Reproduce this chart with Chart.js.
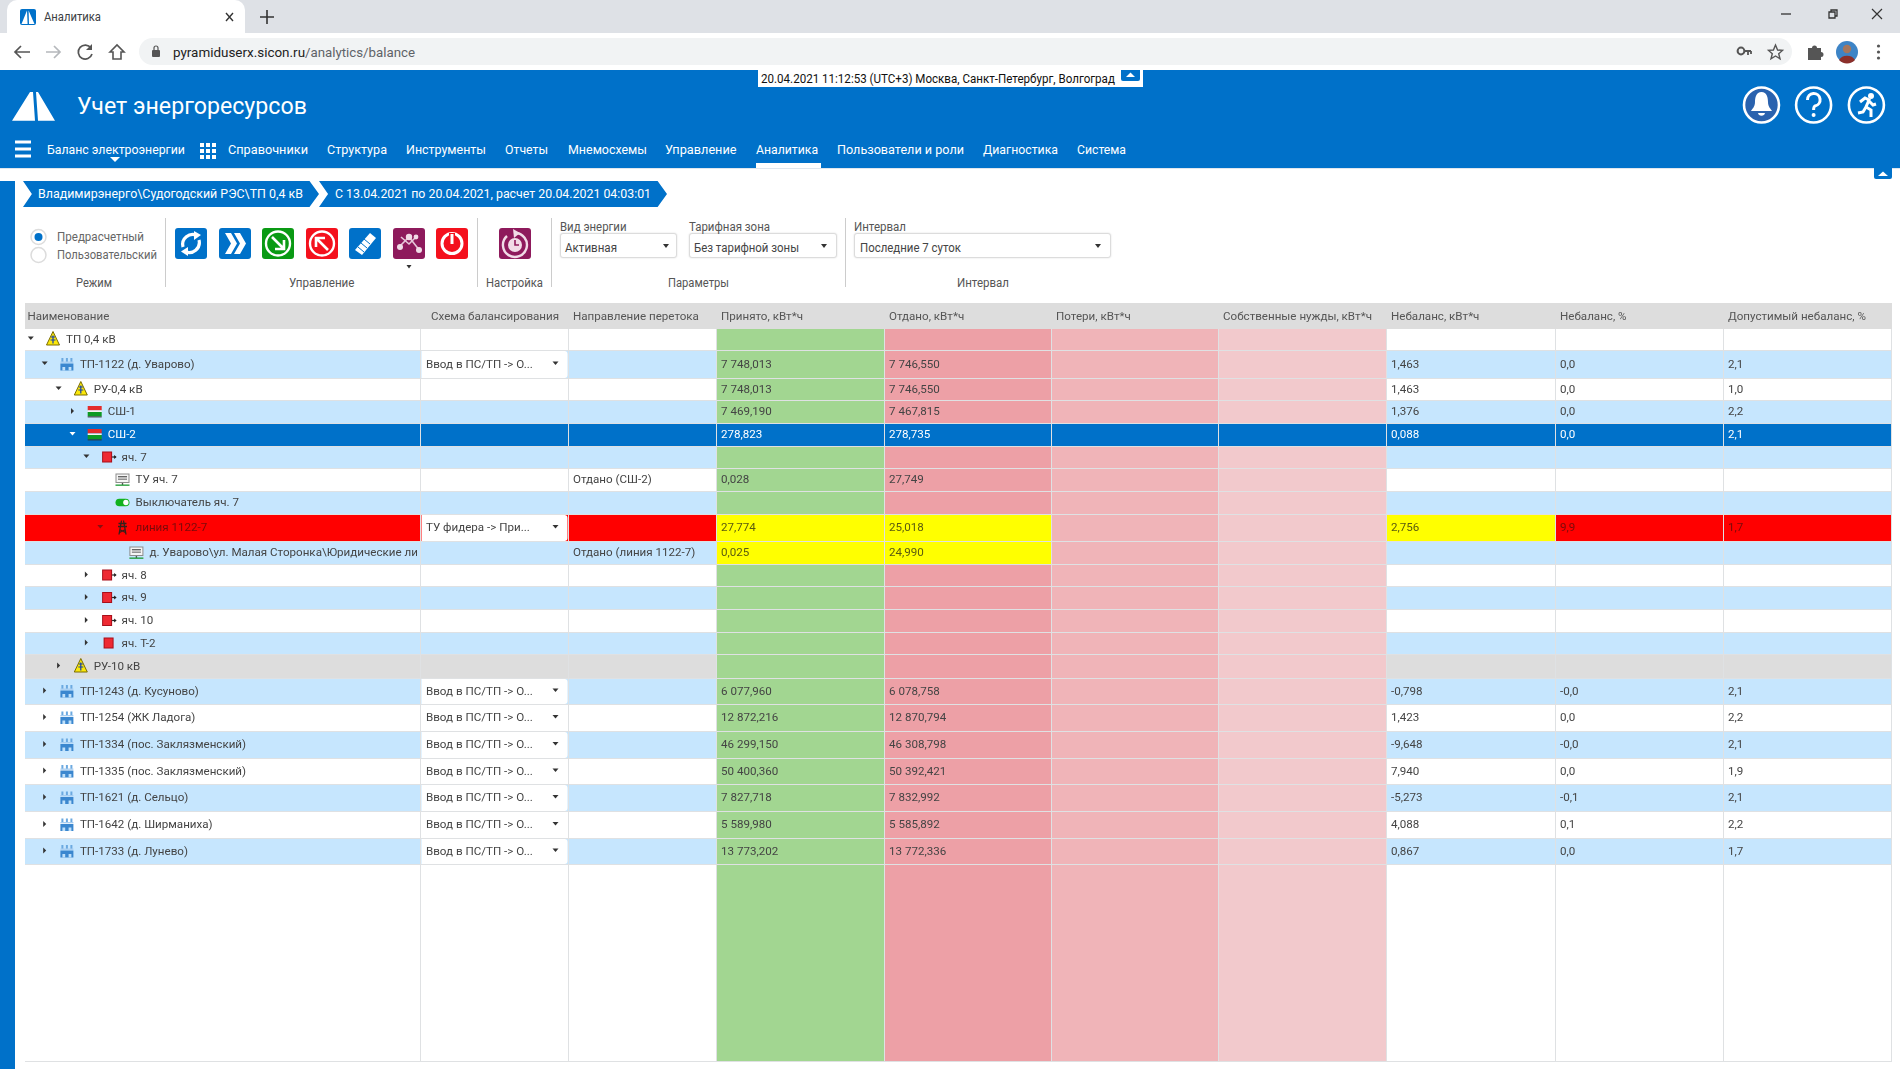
<!DOCTYPE html>
<html lang="ru"><head><meta charset="utf-8"><title>Аналитика</title>
<script src="https://cdn.jsdelivr.net/npm/chart.js@4/dist/chart.umd.min.js"></script>
<style>
html,body{margin:0;padding:0;background:#fff;width:1900px;height:1069px;overflow:hidden;font-family:Roboto,"Open Sans",sans-serif}
.a{position:absolute}
.t{position:absolute;white-space:nowrap;line-height:1;transform-origin:left center}
svg{position:absolute;overflow:visible}
#tbl{position:absolute;left:25px;top:303px;display:block}
</style></head><body>
<div class="a" style="left:0;top:0;width:1900px;height:33px;background:#dee1e6"></div>
<div class="a" style="left:7px;top:0;width:238px;height:34px;background:#fff;border-radius:10px 10px 0 0"></div>
<div class="a" style="left:0;top:33px;width:1900px;height:37px;background:#fff"></div>
<div class="a" style="left:139px;top:38px;width:1653px;height:27px;background:#f1f3f4;border-radius:14px"></div>
<div class="a" style="left:0;top:70px;width:1900px;height:98px;background:#0071c9"></div>
<div class="a" style="left:0;top:168px;width:1900px;height:1px;background:#dfe6ee"></div>
<div class="a" style="left:756px;top:163px;width:65px;height:5px;background:#fff"></div>
<div class="a" style="left:758px;top:70px;width:385px;height:17px;background:#fff"></div>
<div class="a" style="left:1121px;top:70px;width:19px;height:11px;background:#0071c9;border-radius:0 0 2px 2px"></div>
<div class="a" style="left:1874px;top:168px;width:18px;height:11px;background:#0071c9;border-radius:0 0 2px 2px"></div>
<div class="a" style="left:0;top:181px;width:15px;height:888px;background:#0071c9"></div>
<div class="a" style="left:23px;top:181px;width:296px;height:26px;background:#0071c9;clip-path:polygon(0 0,96.8% 0,100% 50%,96.8% 100%,0 100%,3% 50%)"></div>
<div class="a" style="left:319px;top:181px;width:348px;height:26px;background:#0071c9;clip-path:polygon(0 0,97.3% 0,100% 50%,97.3% 100%,0 100%,2.6% 50%)"></div>
<div class="a" style="left:165px;top:218px;width:1px;height:69px;background:#ccc"></div>
<div class="a" style="left:477px;top:218px;width:1px;height:69px;background:#ccc"></div>
<div class="a" style="left:551px;top:218px;width:1px;height:69px;background:#ccc"></div>
<div class="a" style="left:845px;top:218px;width:1px;height:69px;background:#ccc"></div>
<div class="a" style="left:560px;top:233px;width:117px;height:25px;background:#fff;border:1px solid #dcdcdc;border-radius:3px;box-sizing:border-box;box-shadow:0 0 2px #ddd"></div>
<div class="a" style="left:689px;top:233px;width:148px;height:25px;background:#fff;border:1px solid #dcdcdc;border-radius:3px;box-sizing:border-box;box-shadow:0 0 2px #ddd"></div>
<div class="a" style="left:854px;top:233px;width:257px;height:25px;background:#fff;border:1px solid #dcdcdc;border-radius:3px;box-sizing:border-box;box-shadow:0 0 2px #ddd"></div>

<svg style="left:0;top:0" width="1900" height="300" id="ic" xmlns="http://www.w3.org/2000/svg">
 <rect x="20" y="9" width="16" height="16" rx="2" fill="#0071c9"/><path d="M21.5 24 L27 10.5 L27.6 24Z M28.6 10.5 L34.5 24 L29 24Z" fill="#fff"/>
 <path d="M226 13 L233 21 M233 13 L226 21" stroke="#333" stroke-width="1.4"/>
 <path d="M260 17 H274 M267 10 V24" stroke="#333" stroke-width="1.6"/>
 <path d="M30 52 H15 M21 46 L15 52 L21 58" fill="none" stroke="#555" stroke-width="1.7"/>
 <path d="M60 52 H46 M54 46 L60 52 L54 58" fill="none" stroke="#b5b8bc" stroke-width="1.7"/>
 <path d="M91 48 A7 7 0 1 0 92 54" fill="none" stroke="#555" stroke-width="1.7"/><path d="M92 44 V50 H86Z" fill="#555"/>
 <path d="M110 52 L117 45 L124 52 H121 V59 H113 V52Z" fill="none" stroke="#555" stroke-width="1.6"/>
 <rect x="152" y="50" width="8" height="7" rx="1" fill="#555"/><path d="M154 50 V48 A2 2 0 0 1 158 48 V50" fill="none" stroke="#555" stroke-width="1.2"/>
 <circle cx="1741" cy="51" r="3.4" fill="none" stroke="#555" stroke-width="2"/><path d="M1744 51 H1751 M1748 51 V55 M1751 51 V54" stroke="#555" stroke-width="1.8"/>
 <path d="M1775.5 45 L1777.6 50 L1782.5 50.4 L1778.7 53.8 L1780 58.8 L1775.5 56 L1771 58.8 L1772.3 53.8 L1768.5 50.4 L1773.4 50Z" fill="none" stroke="#555" stroke-width="1.4"/>
 <path d="M1808 48 H1812 A2.5 2.5 0 0 1 1817 48 H1821 V52 A2.5 2.5 0 0 1 1821 57 V60 H1808Z" fill="#555"/>
 <circle cx="1847" cy="52" r="11" fill="#3d84c6"/><circle cx="1847" cy="49" r="4.2" fill="#a5765d"/><path d="M1839 60 A9 8 0 0 1 1855 60 A11 11 0 0 1 1839 60Z" fill="#8c2f2a"/>
 <circle cx="1878.5" cy="46" r="1.6" fill="#555"/><circle cx="1878.5" cy="52" r="1.6" fill="#555"/><circle cx="1878.5" cy="58" r="1.6" fill="#555"/>
 <path d="M1781 14 H1791" stroke="#333" stroke-width="1.3"/>
 <path d="M1829 17 H1835 V11 H1829Z M1831 11 V9 H1837 V15 H1835" fill="none" stroke="#333" stroke-width="1.3" transform="translate(0,1)"/>
 <path d="M1872 9 L1882 19 M1882 9 L1872 19" stroke="#333" stroke-width="1.2"/>
 <path d="M12 120.7 L30 92 L33 92 L35 120.7Z M36 92 L38 92 L55 120.7 L38 120.7Z" fill="#fff"/>
 <g fill="#0071c9" stroke="#fff" stroke-width="2.6"><circle cx="1761.5" cy="105" r="17.5" fill="#2a62ae"/><circle cx="1813.6" cy="105" r="17.5"/><circle cx="1866.4" cy="105" r="17.5"/></g>
 <path d="M1761.5 92 C1756 92 1755 98 1755 102 C1755 107 1752 109 1751 111 H1772 C1771 109 1768 107 1768 102 C1768 98 1767 92 1761.5 92Z" fill="#fff"/><path d="M1758 113 A3.6 3.6 0 0 0 1765 113Z" fill="#fff"/>
 <path d="M1807.5 100 A6.3 6.3 0 1 1 1815 106 C1813.8 106.7 1813.6 108 1813.6 110" fill="none" stroke="#fff" stroke-width="3"/><circle cx="1813.6" cy="115" r="2" fill="#fff"/>
 <circle cx="1871" cy="96" r="3" fill="#fff"/><path d="M1860 102 L1865 98 L1869 100 L1866 107 L1871 110 L1871 117 M1866 107 L1863 112 L1858 113 M1869 101 L1873 105 L1876 104" fill="none" stroke="#fff" stroke-width="3"/>
 <path d="M15 142 H31 M15 149 H31 M15 156 H31" stroke="#fff" stroke-width="3.2"/>
 <path d="M110 157 H120 L115 162Z" fill="#fff"/>
 <g fill="#fff"><rect x="200" y="143" width="4" height="4"/><rect x="206" y="143" width="4" height="4"/><rect x="212" y="143" width="4" height="4"/><rect x="200" y="149" width="4" height="4"/><rect x="206" y="149" width="4" height="4"/><rect x="212" y="149" width="4" height="4"/><rect x="200" y="155" width="4" height="4"/><rect x="206" y="155" width="4" height="4"/><rect x="212" y="155" width="4" height="4"/></g>
 <path d="M1126 77 L1130.5 72.5 L1135 77Z" fill="#fff"/>
 <path d="M1878 176 L1883 171.5 L1888 176Z" fill="#fff"/>
 <circle cx="38.5" cy="237" r="7.5" fill="#fff" stroke="#dcdcdc" stroke-width="1.5"/><circle cx="38.5" cy="237" r="4" fill="#0071c9"/>
 <circle cx="38.5" cy="255" r="7.5" fill="#fff" stroke="#dcdcdc" stroke-width="1.5"/>
 <g><rect x="175" y="228" width="32" height="31" rx="3" fill="#0071c9"/><path d="M183 247 A10 10 0 0 1 197 235.5" fill="none" stroke="#fff" stroke-width="3.2"/><path d="M194 231 L201 235 L194 240Z" fill="#fff"/><path d="M199 240 A10 10 0 0 1 185 251.5" fill="none" stroke="#fff" stroke-width="3.2"/><path d="M188 247 L181 251.5 L188 256Z" fill="#fff"/></g>
 <g><rect x="219" y="228" width="32" height="31" rx="3" fill="#0071c9"/><path d="M225 233 L231 233 L237 243.5 L231 254 L225 254 L231 243.5Z M234 233 L240 233 L246 243.5 L240 254 L234 254 L240 243.5Z" fill="#fff"/></g>
 <g><rect x="262" y="228" width="32" height="31" rx="3" fill="#0a9a14"/><circle cx="278" cy="243.5" r="12" fill="none" stroke="#fff" stroke-width="2.4"/><path d="M272 237 L283 248 M284 240 V249 H275" fill="none" stroke="#fff" stroke-width="2.6"/></g>
 <g><rect x="306" y="228" width="32" height="31" rx="3" fill="#f4111d"/><circle cx="322" cy="243.5" r="12" fill="none" stroke="#fff" stroke-width="2.4"/><path d="M328 250 L317 239 M316 247 V238 H325" fill="none" stroke="#fff" stroke-width="2.6"/></g>
 <g><rect x="349" y="228" width="32" height="31" rx="3" fill="#0071c9"/><path d="M355 250 L370 233 L376 238 L362 255Z" fill="#fff"/><path d="M358 247 L364 252 M361 243 L367 248 M364 239 L370 244" stroke="#0071c9" stroke-width="1"/></g>
 <g><rect x="393" y="228" width="32" height="31" rx="3" fill="#8e1a5c"/><path d="M399 247 L409 237 L420 251 M401 237 L409 244 L416 237" fill="none" stroke="#e6c7d9" stroke-width="1.6"/><g fill="#f1dbe7"><circle cx="400" cy="247" r="3"/><circle cx="409" cy="237" r="3.2"/><circle cx="419" cy="250" r="3"/><circle cx="416" cy="237" r="2.4"/></g></g>
 <path d="M406.5 265 H411.5 L409 268.5Z" fill="#333"/>
 <g><rect x="436" y="228" width="32" height="31" rx="3" fill="#f4111d"/><circle cx="452" cy="243.5" r="10" fill="none" stroke="#fff" stroke-width="3"/><path d="M452 233 V244" stroke="#f4111d" stroke-width="6"/><path d="M452 234 V244" stroke="#fff" stroke-width="3"/></g>
 <g><rect x="499" y="228" width="32" height="31" rx="3" fill="#8e1a5c"/><path d="M507 236 A12 12 0 1 0 515 233" fill="none" stroke="#f1dbe7" stroke-width="2.4"/><path d="M513 229 L520 233 L514 238Z" fill="#f1dbe7"/><circle cx="515" cy="245" r="7" fill="#f1dbe7"/><path d="M515 240 V245 H519" fill="none" stroke="#8e1a5c" stroke-width="1.6"/></g>
 <path d="M663 244 H669 L666 248Z M821 244 H827 L824 248Z M1095 244 H1101 L1098 248Z" fill="#333"/>
</svg>

<canvas id="tbl" width="1867" height="760" style="width:1867px;height:760px"></canvas>
<div id="labels"></div>

<script>
// ---------- table data ----------
const columnHeaders = ['Наименование','Схема балансирования','Направление перетока','Принято, кВт*ч','Отдано, кВт*ч','Потери, кВт*ч','Собственные нужды, кВт*ч','Небаланс, кВт*ч','Небаланс, %','Допустимый небаланс, %'];
const rowNames = ['ТП 0,4 кВ','ТП-1122 (д. Уварово)','РУ-0,4 кВ','СШ-1','СШ-2','яч. 7','ТУ яч. 7','Выключатель яч. 7','линия 1122-7','д. Уварово\\ул. Малая Сторонка\\Юридические лица','яч. 8','яч. 9','яч. 10','яч. Т-2','РУ-10 кВ','ТП-1243 (д. Кусуново)','ТП-1254 (ЖК Ладога)','ТП-1334 (пос. Заклязменский)','ТП-1335 (пос. Заклязменский)','ТП-1621 (д. Сельцо)','ТП-1642 (д. Ширманиха)','ТП-1733 (д. Лунево)'];
const rowLevels = [0,1,2,3,3,4,5,5,5,6,4,4,4,4,2,1,1,1,1,1,1,1];
const rowCarets = ['o','o','o','c','o','o','','','o','','c','c','c','c','c','c','c','c','c','c','c','c'];
const rowIcons = ['trans','sub','trans','bus','bus','cell','meter','switch','pole','meter','cell','cell','cell','block','trans','sub','sub','sub','sub','sub','sub','sub'];
const rowStates = ['w','b','w','b','s','b','w','b','r','b','w','b','w','b','g','b','w','b','w','b','w','b'];
const schemes = ['','Ввод в ПС/ТП -> О...','','','','','','','ТУ фидера -> При...','','','','','','','Ввод в ПС/ТП -> О...','Ввод в ПС/ТП -> О...','Ввод в ПС/ТП -> О...','Ввод в ПС/ТП -> О...','Ввод в ПС/ТП -> О...','Ввод в ПС/ТП -> О...','Ввод в ПС/ТП -> О...'];
const directions = ['','','','','','','Отдано (СШ-2)','','','Отдано (линия 1122-7)','','','','','','','','','','','',''];
const received = ['','7 748,013','7 748,013','7 469,190','278,823','','0,028','','27,774','0,025','','','','','','6 077,960','12 872,216','46 299,150','50 400,360','7 827,718','5 589,980','13 773,202'];
const sent = ['','7 746,550','7 746,550','7 467,815','278,735','','27,749','','25,018','24,990','','','','','','6 078,758','12 870,794','46 308,798','50 392,421','7 832,992','5 585,892','13 772,336'];
const losses = rowNames.map(()=> '');
const ownNeeds = rowNames.map(()=> '');
const imbalance = ['','1,463','1,463','1,376','0,088','','','','2,756','','','','','','','-0,798','1,423','-9,648','7,940','-5,273','4,088','0,867'];
const imbalancePct = ['','0,0','0,0','0,0','0,0','','','','9,9','','','','','','','-0,0','0,0','-0,0','0,0','-0,1','0,1','0,0'];
const allowedPct = ['','2,1','1,0','2,2','2,1','','','','1,7','','','','','','','2,1','2,2','2,1','1,9','2,1','2,2','1,7'];
const columns = [rowNames,schemes,directions,received,sent,losses,ownNeeds,imbalance,imbalancePct,allowedPct];

// ---------- layout and style ----------
const colEdges = [0,396,544,692,860,1027,1194,1362,1531,1699,1867];
const rowEdges = [0,26,48,76,98,121,144,166,189,212,239,262,284,307,330,352,376,402,429,456,482,509,536,562,759];
const stateFill = {w:'#ffffff',b:'#c6e6fe',s:'#0071c9',r:'#ff0000',g:'#dddddd'};
const tint = {3:'#a2d691',4:'#eda0a6',5:'#f0b4b8',6:'#f2c9cc'};
const overrides = {'8:3':'#ffff00','8:4':'#ffff00','8:7':'#ffff00','8:8':'#ff0000','8:9':'#ff0000','9:3':'#ffff00','9:4':'#ffff00'};
const FONT = '11.6px Roboto';

function cellFill(r,c){
  if(overrides[r+':'+c]) return overrides[r+':'+c];
  const st = rowStates[r];
  if(st==='s') return stateFill.s;
  if(tint[c]) return tint[c];
  return stateFill[st];
}
const rowTop = k => rowEdges[k];
const datasets = [];
schemes.forEach((s,r)=>{
  if(!s) return;
  const top=rowTop(r+1), h=rowTop(r+2)-top;
  datasets.push({stack:'t',barThickness:h-1,backgroundColor:'#ffffff',borderRadius:3,inflateAmount:0,
    data:[{x:[colEdges[1]+0.5,colEdges[2]-1.5],y:top+(h-1)/2}]});
});
rowNames.forEach((n,r)=>{
  const top=rowTop(r+1), h=rowTop(r+2)-top;
  datasets.push({stack:'t',barThickness:h-1,inflateAmount:0,
    backgroundColor:columnHeaders.map((_,c)=>cellFill(r,c)),
    data:columnHeaders.map((_,c)=>({x:[colEdges[c],colEdges[c+1]-1],y:top+(h-1)/2}))});
});
{ const top=rowEdges[rowEdges.length-2], h=rowEdges[rowEdges.length-1]-top;
  datasets.push({stack:'t',barThickness:h-1,inflateAmount:0,
    backgroundColor:columnHeaders.map((_,c)=>tint[c]||'#ffffff'),
    data:columnHeaders.map((_,c)=>({x:[colEdges[c],colEdges[c+1]-1],y:top+(h-1)/2}))}); }
datasets.push({stack:'t',barThickness:26,backgroundColor:'#dddddd',inflateAmount:0,data:[{x:[0,1867],y:13}]});
datasets.push({stack:'t',barThickness:759,backgroundColor:'#dfe1e3',inflateAmount:0,data:[{x:[0,1867],y:379.5}]});

function caret(ctx,x,y,open,color){
  ctx.fillStyle=color;ctx.beginPath();
  if(open){ctx.moveTo(x-3,y-2);ctx.lineTo(x+3,y-2);ctx.lineTo(x,y+1.5);}
  else{ctx.moveTo(x-1.5,y-3);ctx.lineTo(x+1.5,y);ctx.lineTo(x-1.5,y+3);}
  ctx.closePath();ctx.fill();
}
function rect(ctx,x,y,w,h,c){ctx.fillStyle=c;ctx.fillRect(x,y,w,h);}
function drawIcon(ctx,k,x,y,st){
  if(k==='trans'){
    ctx.fillStyle='#fbe80a';ctx.strokeStyle='#7a6c00';ctx.lineWidth=1;ctx.beginPath();ctx.moveTo(x,y-7.5);ctx.lineTo(x+6.5,y+6);ctx.lineTo(x-6.5,y+6);ctx.closePath();ctx.fill();ctx.stroke();
    ctx.strokeStyle='#1740b0';ctx.lineWidth=1.2;ctx.beginPath();ctx.moveTo(x-2,y-2);ctx.lineTo(x+2,y-2);ctx.moveTo(x-2.5,y+1);ctx.lineTo(x+2.5,y+1);ctx.moveTo(x,y-3.5);ctx.lineTo(x,y+4.5);ctx.stroke();
  } else if(k==='sub'){
    rect(ctx,x-5.5,y-6,2,4,'#6ba9e0');rect(ctx,x-1,y-6,2,4,'#6ba9e0');rect(ctx,x+3.5,y-6,2,4,'#6ba9e0');
    rect(ctx,x-6.5,y-2.5,13,1.3,'#a7cdf0');rect(ctx,x-6.5,y-0.5,13,7,'#3b87cf');rect(ctx,x-4.5,y+3,2.8,3.5,'#bfe0fa');rect(ctx,x+1.7,y+3,2.8,3.5,'#bfe0fa');
  } else if(k==='bus'){
    rect(ctx,x-7,y-5.5,14,4.4,'#e32b2b');rect(ctx,x-7,y-1.1,14,1.6,'#f4f4f4');rect(ctx,x-7,y+0.5,14,4.4,'#0d9a23');rect(ctx,x-7,y+4.9,14,1,'#333');
  } else if(k==='cell'||k==='block'){
    const ox=k==='cell'?-1.5:0;
    rect(ctx,x-5+ox,y-5.5,10,11,'#a80f1a');rect(ctx,x-4+ox,y-4.5,8,9,'#ee2a33');
    if(k==='cell'){ctx.fillStyle='#222';ctx.fillRect(x+3.5,y-0.6,3.5,1.2);ctx.beginPath();ctx.moveTo(x+5.5,y-2);ctx.lineTo(x+8,y);ctx.lineTo(x+5.5,y+2);ctx.fill();}
  } else if(k==='meter'){
    rect(ctx,x-7,y-6,14,9.5,'#8d8d8d');rect(ctx,x-6,y-5,12,7.5,'#f6f6f6');rect(ctx,x-4.5,y-3.5,9,1.4,'#666');rect(ctx,x-4.5,y-1,9,1.4,'#888');
    rect(ctx,x-0.7,y+3.5,1.4,2,'#555');rect(ctx,x-7,y+5,14,1.3,'#1a9a30');
  } else if(k==='switch'){
    ctx.fillStyle='#12b21e';ctx.beginPath();ctx.roundRect(x-7,y-3.8,14,7.6,3.8);ctx.fill();ctx.fillStyle='#fff';ctx.beginPath();ctx.arc(x+3.4,y,2.7,0,7);ctx.fill();
  } else if(k==='pole'){
    ctx.strokeStyle='#33201a';ctx.lineWidth=1.3;ctx.beginPath();ctx.moveTo(x-1,y-7);ctx.lineTo(x-3.5,y+7);ctx.moveTo(x+1,y-7);ctx.lineTo(x+3.5,y+7);ctx.moveTo(x-4,y-4);ctx.lineTo(x+4,y-4);ctx.moveTo(x-4.5,y-1);ctx.lineTo(x+4.5,y-1);ctx.moveTo(x-3,y+2);ctx.lineTo(x+3,y+5);ctx.moveTo(x+3,y+2);ctx.lineTo(x-3,y+5);ctx.stroke();
  }
}
const tablePainter = {
  id:'tablePainter',
  afterDatasetsDraw(chart){
    const {ctx,scales:{x:X,y:Y}} = chart;
    ctx.save();ctx.font=FONT;ctx.textBaseline='middle';ctx.textAlign='left';
    ctx.fillStyle='#555555';
    columnHeaders.forEach((h,c)=>ctx.fillText(h,X.getPixelForValue(colEdges[c]+(c===0?2.5:c===1?10:4)),Y.getPixelForValue(14)));
    rowNames.forEach((name,r)=>{
      const top=rowEdges[r+1],bot=rowEdges[r+2],cy=Y.getPixelForValue((top+bot-1)/2);
      const st=rowStates[r];
      const ink=st==='s'?'#ffffff':st==='r'?'#7a0a0a':'#444444';
      const L=rowLevels[r];
      if(rowCarets[r]) caret(ctx,X.getPixelForValue(5.8+13.9*L),cy-1,rowCarets[r]==='o',st==='s'?'#ffffff':st==='r'?'#8a1010':'#333');
      drawIcon(ctx,rowIcons[r],X.getPixelForValue(28+13.9*L),cy-0.5,st);
      ctx.save();ctx.beginPath();ctx.rect(X.getPixelForValue(colEdges[0]),Y.getPixelForValue(top),X.getPixelForValue(colEdges[1]-4),bot-top);ctx.clip();
      ctx.fillStyle=ink;ctx.fillText(name,X.getPixelForValue(41+13.9*L),cy+0.5);ctx.restore();
      if(schemes[r]){
        ctx.fillStyle='#444';ctx.fillText(schemes[r],X.getPixelForValue(colEdges[1]+5),cy+0.5);
        caret(ctx,X.getPixelForValue(colEdges[2]-13.5),cy-1,true,'#333');
      }
      for(let c=2;c<columns.length;c++){
        const v=columns[c][r]; if(!v) continue;
        const ov=overrides[r+':'+c];
        ctx.fillStyle= st==='s'?'#fff': ov==='#ff0000'?'#7a0a0a': ov==='#ffff00'?'#5b5b10':'#444444';
        ctx.fillText(v,X.getPixelForValue(colEdges[c]+4),cy+0.5);
      }
    });
    ctx.restore();
  }
};
new Chart(document.getElementById('tbl'),{
  type:'bar',
  data:{datasets},
  plugins:[tablePainter],
  options:{
    indexAxis:'y',responsive:false,animation:false,devicePixelRatio:1,events:[],
    layout:{padding:0},
    plugins:{legend:{display:false},tooltip:{enabled:false},title:{display:false}},
    scales:{
      x:{type:'linear',display:false,min:0,max:1867,stacked:false,offset:false},
      y:{type:'linear',display:false,min:0,max:760,reverse:true,offset:false}
    }
  }
});

// ---------- page text around the chart ----------
const pageTexts = [
 ['Аналитика',44,17,12.5,'#3c4043',57],
 ['pyramiduserx.sicon.ru',172.5,51.5,13,'#222',132],
 ['/analytics/balance',304.5,51.5,13,'#5f6368',110],
 ['20.04.2021 11:12:53 (UTC+3) Москва, Санкт-Петербург, Волгоград',761,79,12,'#111',354],
 ['Учет энергоресурсов',76.5,106,24,'#fff',230],
 ['Баланс электроэнергии',46.5,148.5,13,'#fff',138],['Справочники',228,148.5,13,'#fff',80],['Структура',327,148.5,13,'#fff',60],['Инструменты',406,148.5,13,'#fff',80],['Отчеты',505,148.5,13,'#fff',43],['Мнемосхемы',567.5,148.5,13,'#fff',79],['Управление',665,148.5,13,'#fff',71.5],['Аналитика',755.5,148.5,13,'#fff',62],['Пользователи и роли',837,148.5,13,'#fff',127],['Диагностика',983,148.5,13,'#fff',75],['Система',1077,148.5,13,'#fff',49],
 ['Владимирэнерго\\Судогодский РЭС\\ТП 0,4 кВ',38,194,12.5,'#fff',265],
 ['С 13.04.2021 по 20.04.2021, расчет 20.04.2021 04:03:01',335,194,12.5,'#fff',316],
 ['Предрасчетный',57,237,12,'#666',87],['Пользовательский',57,255,12,'#666',100],
 ['Режим',76,283,12,'#555',36],['Управление',289,283,12,'#555',65.5],['Настройка',486,283,12,'#555',57],['Параметры',668,283,12,'#555',61],['Интервал',956.5,283,12,'#555',52],
 ['Вид энергии',560,227,12,'#555',66.5],['Тарифная зона',689,227,12,'#555',81],['Интервал',853.5,227,12,'#555',52],
 ['Активная',564.5,247.5,12,'#444',52],['Без тарифной зоны',694,247.5,12,'#444',105],['Последние 7 суток',859.5,247.5,12,'#444',101]
];
const host=document.getElementById('labels');
pageTexts.forEach(([s,x,y,fs,col,w])=>{
  const e=document.createElement('span');e.className='t';e.textContent=s;
  e.style.cssText=`left:${x}px;top:${y}px;font-size:${fs}px;color:${col}`;
  host.appendChild(e);
  const k=w/e.getBoundingClientRect().width;
  e.style.transform=`translateY(-50%) scaleX(${k.toFixed(3)})`;
});
</script></body></html>
